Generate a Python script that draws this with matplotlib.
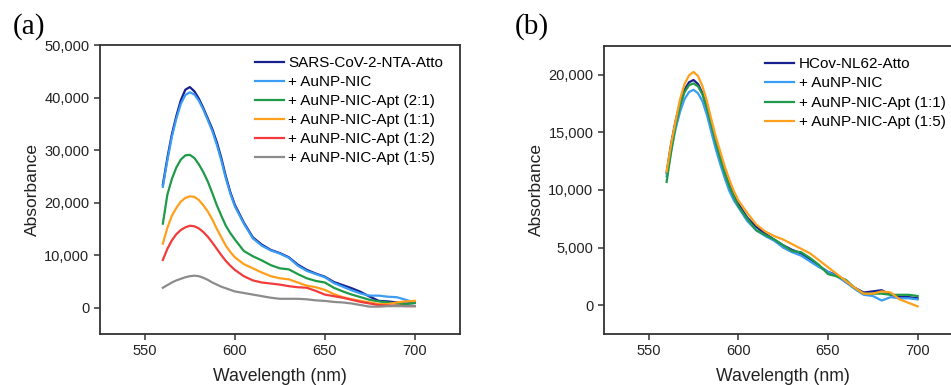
import matplotlib
matplotlib.use('Agg')
import matplotlib.pyplot as plt
from matplotlib.ticker import FuncFormatter

plt.rcParams['font.family'] = ['Liberation Sans', 'DejaVu Sans']

wavelength = [560, 562.5, 565, 567.5, 570, 572.5, 575, 577.5, 580, 582.5, 585, 587.5, 590, 592.5, 595, 597.5,
              600, 605, 610, 615, 620, 625, 630, 635, 640, 645, 650, 655, 660, 665, 670, 675, 680, 685, 690, 695, 700]

# panel (a): SARS-CoV-2
sars_names = ['SARS-CoV-2-NTA-Atto', '+ AuNP-NIC', '+ AuNP-NIC-Apt (2:1)',
              '+ AuNP-NIC-Apt (1:1)', '+ AuNP-NIC-Apt (1:2)', '+ AuNP-NIC-Apt (1:5)']
sars_atto = [23400, 28500, 33000, 36500, 39500, 41500, 42000, 41200, 39800, 38000, 36000, 34000, 31500, 28500, 25000, 22000,
             19600, 16200, 13400, 12000, 11000, 10400, 9600, 8200, 7200, 6500, 5900, 4900, 4300, 3700, 3000, 2100, 1300, 1200, 1000, 800, 900]
sars_nic = [23000, 28000, 32500, 36000, 38800, 40500, 41000, 40600, 39400, 37700, 35700, 33600, 31000, 28000, 24600, 21700,
            19300, 16000, 13200, 11800, 10900, 10300, 9500, 8000, 7000, 6400, 5800, 4700, 4000, 3300, 2700, 2300, 2300, 2100, 2000, 1500, 1000]
sars_apt21 = [16000, 21500, 24500, 26700, 28200, 29000, 29100, 28500, 27300, 25800, 24000, 21800, 19500, 17500, 15600, 14200,
              13000, 10800, 9800, 9000, 8100, 7500, 7300, 6400, 5600, 5100, 4800, 3800, 3100, 2500, 2000, 1500, 1200, 1000, 800, 700, 900]
sars_apt11 = [12200, 15200, 17500, 19000, 20200, 20900, 21200, 21100, 20500, 19500, 18300, 16800, 15000, 13400, 11800, 10600,
              9600, 8300, 7500, 6700, 6000, 5600, 5400, 4800, 4200, 3900, 3400, 2600, 2000, 1600, 1300, 1000, 700, 700, 1000, 1200, 1300]
sars_apt12 = [9100, 11200, 12800, 14000, 14800, 15300, 15600, 15500, 15100, 14400, 13500, 12400, 11200, 10000, 8900, 8000,
              7200, 6000, 5200, 4800, 4600, 4400, 4100, 3900, 3800, 3200, 2500, 2200, 1900, 1500, 1100, 800, 500, 400, 400, 300, 300]
sars_apt15 = [3800, 4300, 4800, 5200, 5500, 5800, 6000, 6100, 6000, 5700, 5300, 4800, 4400, 4000, 3700, 3400,
              3100, 2800, 2500, 2200, 1900, 1700, 1700, 1700, 1600, 1400, 1300, 1100, 1000, 800, 500, 200, 200, 300, 300, 300, 300]

# panel (b): HCoV-NL63
hcov_names = ['HCov-NL62-Atto', '+ AuNP-NIC', '+ AuNP-NIC-Apt (1:1)', '+ AuNP-NIC-Apt (1:5)']
hcov_atto = [11500, 14000, 16000, 17600, 18700, 19350, 19550, 19200, 18400, 17100, 15600, 14000, 12700, 11500, 10400, 9500,
             8800, 7600, 6800, 6200, 5700, 5200, 4800, 4500, 4000, 3400, 2900, 2600, 2000, 1500, 1100, 1200, 1300, 900, 700, 700, 600]
hcov_nic = [11200, 13400, 15300, 16800, 17900, 18500, 18700, 18400, 17700, 16500, 15000, 13500, 12200, 11000, 9900, 9100,
            8500, 7300, 6500, 6000, 5600, 5000, 4600, 4300, 3800, 3300, 2900, 2500, 2000, 1400, 900, 800, 400, 700, 600, 600, 500]
hcov_apt11 = [10700, 13300, 15600, 17300, 18500, 19100, 19250, 19000, 18300, 17100, 15600, 14100, 12700, 11400, 10300, 9400,
              8600, 7500, 6500, 6100, 5700, 5200, 4700, 4600, 4100, 3500, 2700, 2500, 2200, 1500, 1000, 1000, 1000, 900, 900, 900, 800]
hcov_apt15 = [11600, 14000, 16000, 17900, 19200, 19950, 20250, 19900, 19000, 17700, 16100, 14600, 13300, 12000, 10900, 9900,
              9100, 8000, 7000, 6400, 6000, 5700, 5300, 4900, 4500, 3900, 3300, 2700, 2100, 1500, 1000, 1000, 1200, 1100, 500, 200, -100]

colors_a = ['#16208f', '#3a9cf2', '#1f9a48', '#ff9f1c', '#f23b3b', '#8c8c8c']
colors_b = ['#16208f', '#3a9cf2', '#1f9a48', '#ff9f1c']

comma = FuncFormatter(lambda v, p: f'{int(v):,}')


def style_axes(ax):
    for side in ['top', 'right', 'left', 'bottom']:
        ax.spines[side].set_linewidth(1.3)
        ax.spines[side].set_color('#333333')
    ax.tick_params(direction='out', length=4, width=1.1, colors='#333333',
                   labelsize=10.5, labelcolor='#222222')
    ax.set_xlim(525, 725)
    ax.set_xticks([550, 600, 650, 700])
    ax.yaxis.set_major_formatter(comma)
    ax.set_xlabel('Wavelength (nm)', fontsize=12.7, color='#222222', labelpad=7)
    ax.set_ylabel('Absorbance', fontsize=12.5, color='#222222', labelpad=3)


fig = plt.figure(figsize=(9.51, 3.85), dpi=100)

ax1 = fig.add_axes([0.105, 0.1325, 0.3785, 0.7505])
series_a = [sars_atto, sars_nic, sars_apt21, sars_apt11, sars_apt12, sars_apt15]
for vals, name, c in zip(series_a, sars_names, colors_a):
    ax1.plot(wavelength, vals, color=c, lw=1.6, label=name)
ax1.set_ylim(-5000, 50000)
ax1.set_yticks([0, 10000, 20000, 30000, 40000, 50000])
style_axes(ax1)
ax1.legend(loc='upper left', bbox_to_anchor=(0.43, 0.962), frameon=False, fontsize=11,
           handlelength=1.9, handletextpad=0.3, labelspacing=0.33, borderpad=0, borderaxespad=0)

ax2 = fig.add_axes([0.635, 0.1325, 0.377, 0.748])
series_b = [hcov_atto, hcov_nic, hcov_apt11, hcov_apt15]
for vals, name, c in zip(series_b, hcov_names, colors_b):
    ax2.plot(wavelength, vals, color=c, lw=1.6, label=name)
ax2.set_ylim(-2500, 22500)
ax2.set_yticks([0, 5000, 10000, 15000, 20000])
style_axes(ax2)
ax2.legend(loc='upper left', bbox_to_anchor=(0.45, 0.962), frameon=False, fontsize=11,
           handlelength=1.9, handletextpad=0.3, labelspacing=0.36, borderpad=0, borderaxespad=0)

fig.text(0.013, 0.93, '(a)', fontsize=21, family=['Liberation Serif', 'DejaVu Serif'], va='center')
fig.text(0.541, 0.93, '(b)', fontsize=21, family=['Liberation Serif', 'DejaVu Serif'], va='center')

fig.savefig('out.png', dpi=100)
